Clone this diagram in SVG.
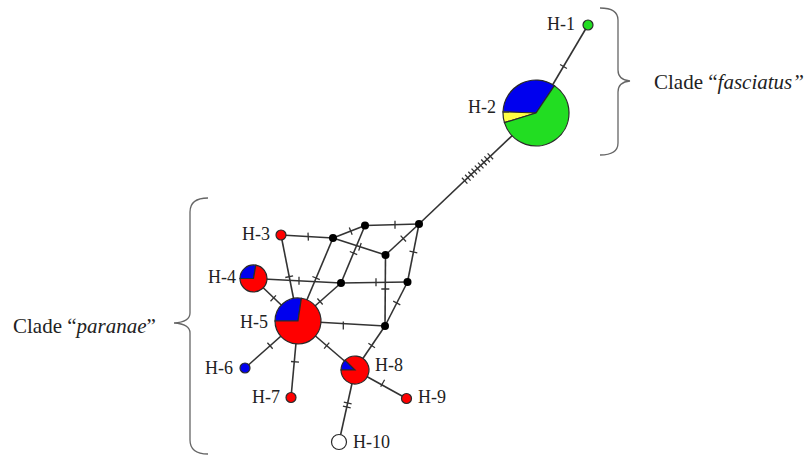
<svg xmlns="http://www.w3.org/2000/svg" width="810" height="456" viewBox="0 0 810 456">
<style>
.e{stroke:#333;stroke-width:1.6;fill:none}
.t{stroke:#333;stroke-width:1.3;fill:none}
.br{stroke:#666;stroke-width:1.3;fill:none}
.hub{fill:#000}
.pie{stroke:#2a2a2a;stroke-width:1.2}
.r{fill:#ff0000}.b{fill:#0000ee}.g{fill:#22dd22}.y{fill:#ffff44}.w{fill:#fff}
.lab{font-family:"Liberation Serif","Times New Roman",serif;font-size:18px;fill:#222}
.cl{font-family:"Liberation Serif","Times New Roman",serif;font-size:21px;fill:#222}
</style>
<rect width="810" height="456" fill="#fff"/>
<g id="connectors">
<line class="e" x1="588" y1="25" x2="536" y2="113"/>
<line class="e" x1="536" y1="113" x2="419" y2="224"/>
<line class="e" x1="419" y1="224" x2="365" y2="225.5"/>
<line class="e" x1="419" y1="224" x2="385.5" y2="255"/>
<line class="e" x1="419" y1="224" x2="407.5" y2="282"/>
<line class="e" x1="365" y1="225.5" x2="333" y2="238"/>
<line class="e" x1="365" y1="225.5" x2="341" y2="283"/>
<line class="e" x1="333" y1="238" x2="385.5" y2="255"/>
<line class="e" x1="281" y1="235" x2="333" y2="238"/>
<line class="e" x1="281" y1="235" x2="298" y2="321"/>
<line class="e" x1="253.5" y1="278.5" x2="341" y2="283"/>
<line class="e" x1="341" y1="283" x2="407.5" y2="282"/>
<line class="e" x1="385.5" y1="255" x2="385" y2="326"/>
<line class="e" x1="407.5" y1="282" x2="385" y2="326"/>
<line class="e" x1="333" y1="238" x2="298" y2="321"/>
<line class="e" x1="341" y1="283" x2="298" y2="321"/>
<line class="e" x1="298" y1="321" x2="385" y2="326"/>
<line class="e" x1="253.5" y1="278.5" x2="298" y2="321"/>
<line class="e" x1="298" y1="321" x2="245" y2="368"/>
<line class="e" x1="298" y1="321" x2="291" y2="397.5"/>
<line class="e" x1="298" y1="321" x2="355" y2="370"/>
<line class="e" x1="385" y1="326" x2="355" y2="370"/>
<line class="e" x1="355" y1="370" x2="406.5" y2="398.5"/>
<line class="e" x1="355" y1="370" x2="339" y2="442"/>
<path class="t" d="M560.1 64.5l6.8 4
M487.6 153.4l5.5 5.8M484.4 156.4l5.5 5.8M481.2 159.5l5.5 5.8M478 162.6l5.5 5.8M474.8 165.6l5.5 5.8M471.5 168.6l5.5 5.8M468.3 171.7l5.5 5.8M465.1 174.8l5.5 5.8M461.9 177.8l5.5 5.8
M395 220.7l0 8
M400.6 235.6l5.4 5.9
M409.5 251.2l7.8 1.6
M349.3 227.4l2.9 7.4
M349.8 251.5l7.4 3.1
M361.2 243l-2.5 7.6
M308 232.6l0.4 8
M285.3 277.5l7.8 -1.6
M299 276.8l0 8
M376 278.3l0 8
M381.3 289l8 0
M393.2 301.2l7.1 3.6
M312.4 276.5l7.4 3.1
M317.4 298.5l5.3 6
M343.3 321.4l0 8
M270.5 301.2l5.5 -5.8
M267.4 342.8l5.3 6
M291 361.5l8 0.7
M324.1 348.7l5.2 -6.1
M368.4 343.3l6.6 4.5
M384.6 379.8l-3.9 7
M343.8 402.1l7.8 1.7M342.9 406.1l7.8 1.7"/>
</g>
<g id="n-A"><circle class="hub" cx="333" cy="238" r="4"/></g>
<g id="n-B"><circle class="hub" cx="365" cy="225.5" r="4"/></g>
<g id="n-C"><circle class="hub" cx="419" cy="224" r="4"/></g>
<g id="n-D"><circle class="hub" cx="385.5" cy="255" r="4"/></g>
<g id="n-E"><circle class="hub" cx="341" cy="283" r="4"/></g>
<g id="n-F"><circle class="hub" cx="407.5" cy="282" r="4"/></g>
<g id="n-G"><circle class="hub" cx="385" cy="326" r="4"/></g>
<g id="H-1"><circle class="pie g" cx="588" cy="25" r="5"/><text class="lab" x="547" y="30">H-1</text></g>
<g id="H-2">
<path class="pie b" d="M536 113L554.45 85.64A33 33 0 0 0 503.02 111.85Z"/>
<path class="pie y" d="M536 113L503.02 111.85A33 33 0 0 0 504.45 122.65Z"/>
<path class="pie g" d="M536 113L504.45 122.65A33 33 0 1 0 554.45 85.64Z"/>
<text class="lab" x="468" y="113">H-2</text></g>
<g id="H-3"><circle class="pie r" cx="281" cy="235" r="5"/><text class="lab" x="242" y="240">H-3</text></g>
<g id="H-4">
<path class="pie b" d="M253.5 278.5L240 278.5A13.5 13.5 0 0 1 255.84 265.2Z"/>
<path class="pie r" d="M253.5 278.5L255.84 265.2A13.5 13.5 0 1 1 240 278.5Z"/>
<text class="lab" x="236" y="283" text-anchor="end">H-4</text></g>
<g id="H-5">
<path class="pie b" d="M298 321L275 321A23 23 0 0 1 301.4 298.25Z"/>
<path class="pie r" d="M298 321L301.4 298.25A23 23 0 1 1 275 321Z"/>
<text class="lab" x="240" y="328">H-5</text></g>
<g id="H-6"><circle class="pie b" cx="245" cy="368" r="5"/><text class="lab" x="205" y="374">H-6</text></g>
<g id="H-7"><circle class="pie r" cx="291" cy="397.5" r="5"/><text class="lab" x="252" y="403">H-7</text></g>
<g id="H-8">
<path class="pie b" d="M355 370L341 370A14 14 0 0 1 345.1 360.1Z"/>
<path class="pie r" d="M355 370L345.1 360.1A14 14 0 1 1 341 370Z"/>
<text class="lab" x="375" y="371">H-8</text></g>
<g id="H-9"><circle class="pie r" cx="406.5" cy="398.5" r="5"/><text class="lab" x="418" y="403">H-9</text></g>
<g id="H-10"><circle class="pie w" cx="339" cy="442" r="7.5"/><text class="lab" x="353" y="448">H-10</text></g>
<g id="clade-fasciatus">
<path class="br" d="M600 8Q618 8 618 20L618 70Q618 80 630 81Q618 82 618 92L618 143Q618 155 600 155"/>
<text class="cl" x="654" y="89">Clade “<tspan font-style="italic">fasciatus”</tspan></text>
</g>
<g id="clade-paranae">
<path class="br" d="M208 198Q190 198 190 212L190 313Q190 322 174 323Q190 324 190 333L190 440Q190 454 208 454"/>
<text class="cl" x="13" y="333">Clade “<tspan font-style="italic">paranae</tspan>”</text>
</g>
</svg>
